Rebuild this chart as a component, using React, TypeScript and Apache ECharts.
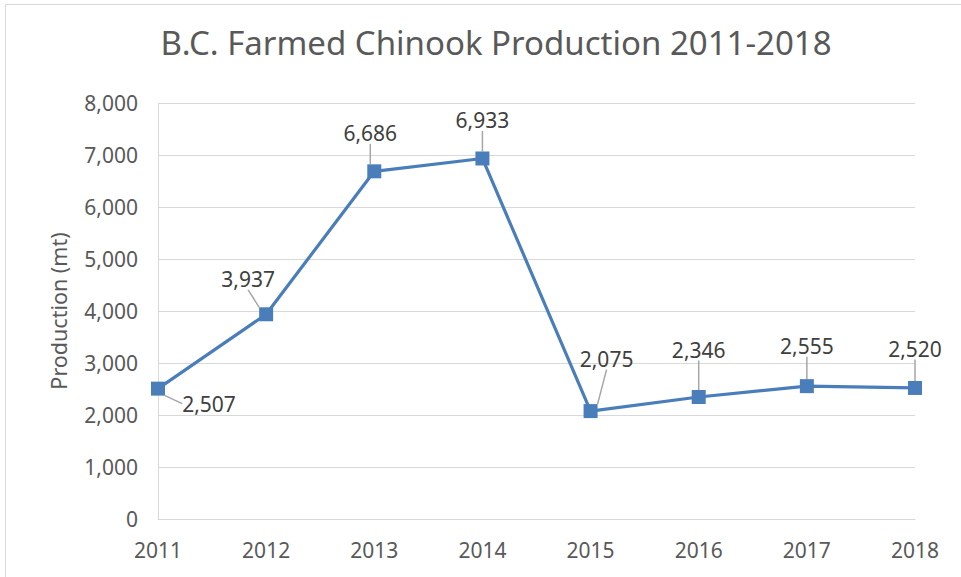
import React, { useEffect, useRef } from "react";
import * as echarts from "echarts";

const years = ["2011", "2012", "2013", "2014", "2015", "2016", "2017", "2018"];
const production = [2507, 3937, 6686, 6933, 2075, 2346, 2555, 2520];
const yTicks = { min: 0, max: 8000, interval: 1000 };

// label offsets (px) from each point's centre, for the callout placement
const labelDx = [51, -18, -4, 0, 16, 0, 0, 0];
const labelDy = [15, -35, -38, -38, -52, -47, -40, -39];

const FONT = "Noto Sans";

export default function App() {
  const ref = useRef<HTMLDivElement>(null);
  useEffect(() => {
    if (!ref.current) return;
    const chart = echarts.init(ref.current, null, { renderer: "svg" });
    chart.setOption({
      animation: false,
      backgroundColor: "#ffffff",
      textStyle: { fontFamily: FONT },
      title: {
        text: "B.C. Farmed Chinook Production 2011-2018",
        left: "51.1%",
        textAlign: "center",
        top: 21,
        textStyle: { fontFamily: FONT, fontSize: 33, fontWeight: "normal", color: "#595959" },
      },
      graphic: [
        {
          type: "rect",
          shape: { x: 5.5, y: 4.5, width: 1000, height: 1000 },
          style: { fill: "none", stroke: "#d9d9d9", lineWidth: 1 },
          silent: true,
          z: -10,
        },
      ],
      grid: { left: 158, right: 46, top: 103, bottom: 58 },
      xAxis: {
        type: "category",
        data: years,
        boundaryGap: false,
        axisLine: { lineStyle: { color: "#d9d9d9", width: 1 } },
        axisTick: { show: false },
        axisLabel: { color: "#595959", fontSize: 21, fontFamily: FONT, margin: 20 },
        splitLine: { show: false },
      },
      yAxis: {
        type: "value",
        min: yTicks.min,
        max: yTicks.max,
        interval: yTicks.interval,
        name: "Production (mt)",
        nameLocation: "middle",
        nameGap: 89,
        nameTextStyle: { color: "#595959", fontSize: 21.5, fontFamily: FONT },
        axisLine: { show: true, lineStyle: { color: "#d9d9d9", width: 1 } },
        axisTick: { show: false },
        axisLabel: {
          color: "#595959",
          fontSize: 21,
          fontFamily: FONT,
          margin: 20,
          formatter: (v: number) => v.toLocaleString("en-US"),
        },
        splitLine: { lineStyle: { color: "#d9d9d9", width: 1 } },
      },
      series: [
        {
          type: "line",
          data: production,
          symbol: "rect",
          symbolSize: 14,
          lineStyle: { color: "#4a7ebb", width: 3.2 },
          itemStyle: { color: "#4a7ebb" },
          label: {
            show: true,
            position: "inside",
            color: "#404040",
            fontSize: 21,
            fontFamily: FONT,
            formatter: (p: any) => Number(p.value).toLocaleString("en-US"),
          },
          labelLine: { show: true, lineStyle: { color: "#a6a6a6", width: 1.5 } },
          labelLayout: (params: any) => ({
            dx: labelDx[params.dataIndex],
            dy: labelDy[params.dataIndex],
          }),
        },
      ],
    });
    return () => chart.dispose();
  }, []);
  return (
    <div
      ref={ref}
      style={{ position: "fixed", left: 0, top: 0, width: 961, height: 577 }}
    />
  );
}
